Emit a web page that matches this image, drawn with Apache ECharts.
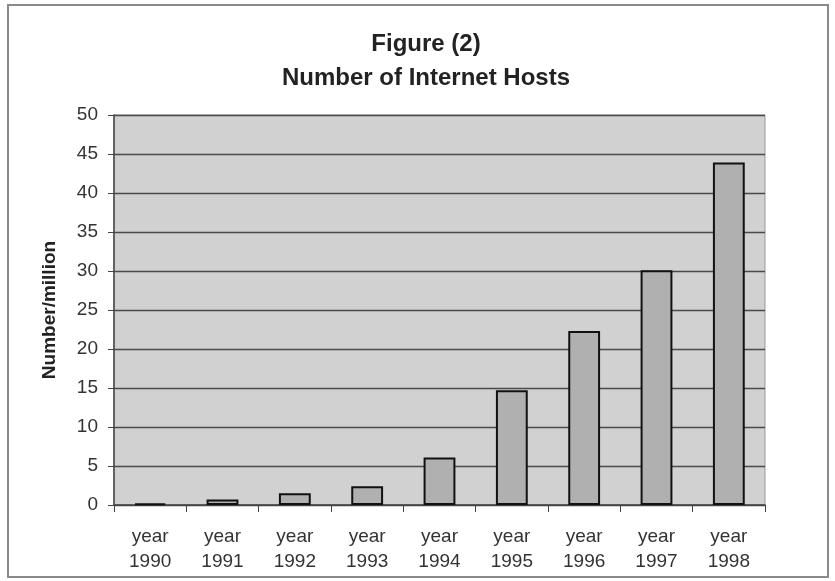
<!DOCTYPE html>
<html>
<head>
<meta charset="utf-8">
<script src="https://cdn.jsdelivr.net/npm/echarts@6/dist/echarts.min.js"></script>
<style>
  html, body { margin: 0; padding: 0; background: #fff; }
  #chart { width: 835px; height: 581px; }
</style>
</head>
<body>
<div id="chart"></div>
<script>
// Internet hosts per year, in millions
const years = ['1990', '1991', '1992', '1993', '1994', '1995', '1996', '1997', '1998'];
const hosts = [0.2, 0.7, 1.5, 2.4, 6.1, 14.7, 22.3, 30.1, 43.9];
const titleLines = ['Figure (2)', 'Number of Internet Hosts'];
const yAxisName = 'Number/million';

const chart = echarts.init(document.getElementById('chart'));

chart.setOption({
  backgroundColor: '#ffffff',
  animation: false,
  title: {
    text: titleLines.join('\n'),
    left: 421,
    textAlign: 'center',
    top: 22,
    textStyle: {
      fontFamily: 'Liberation Sans, Arial, sans-serif',
      fontSize: 24,
      fontWeight: 'bold',
      color: '#222',
      lineHeight: 34
    }
  },
  graphic: [{
    type: 'rect',
    shape: { x: 8, y: 5, width: 820, height: 572 },
    style: { fill: 'none', stroke: '#8a8a8a', lineWidth: 2 },
    z: -1,
    silent: true
  }],
  grid: {
    left: 114,
    right: 70,
    top: 115,
    bottom: 76,
    show: true,
    backgroundColor: '#d1d1d1',
    borderColor: '#9a9a9a',
    borderWidth: 1
  },
  xAxis: {
    type: 'category',
    data: years.map(y => 'year\n' + y),
    boundaryGap: true,
    axisLine: { show: true, lineStyle: { color: '#444', width: 1.5 } },
    axisTick: { show: true, alignWithLabel: false, length: 7, lineStyle: { color: '#444' } },
    axisLabel: {
      fontFamily: 'Liberation Sans, Arial, sans-serif',
      fontSize: 19,
      color: '#333',
      lineHeight: 25,
      margin: 19
    }
  },
  yAxis: {
    type: 'value',
    min: 0,
    max: 50,
    interval: 5,
    name: yAxisName,
    nameLocation: 'middle',
    nameGap: 55,
    nameRotate: 90,
    nameTextStyle: {
      fontFamily: 'Liberation Sans, Arial, sans-serif',
      fontSize: 19,
      fontWeight: 'bold',
      color: '#222'
    },
    axisLine: { show: true, lineStyle: { color: '#444', width: 1.5 } },
    axisTick: { show: true, length: 6, lineStyle: { color: '#444' } },
    axisLabel: {
      fontFamily: 'Liberation Sans, Arial, sans-serif',
      fontSize: 19,
      color: '#333',
      margin: 16
    },
    splitLine: { show: true, lineStyle: { color: '#4a4a4a', width: 1.4 } }
  },
  series: [{
    type: 'bar',
    data: hosts,
    barWidth: '44%',
    itemStyle: {
      color: '#b0b0b0',
      borderColor: '#111',
      borderWidth: 2
    }
  }]
});
</script>
</body>
</html>
